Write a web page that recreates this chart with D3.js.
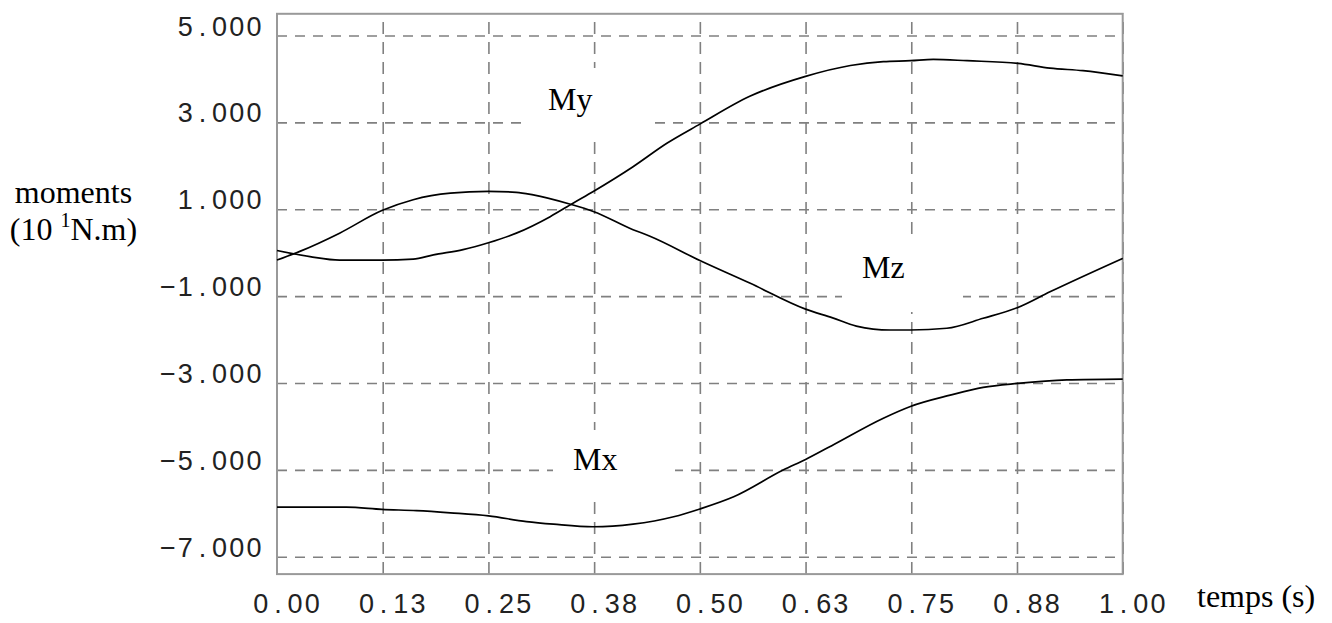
<!DOCTYPE html>
<html>
<head>
<meta charset="utf-8">
<script src="https://cdn.jsdelivr.net/npm/d3@7"></script>
<style>
  body { margin: 0; background: #fff; }
</style>
</head>
<body>
<div id="chart"></div>
<script>
// Data
const myTime = [0, 0.039, 0.074, 0.124, 0.161, 0.185, 0.22, 0.25, 0.283, 0.323, 0.35, 0.374, 0.421, 0.461, 0.5, 0.559, 0.625, 0.678, 0.717, 0.749, 0.776, 0.816, 0.876, 0.914, 0.953, 1]
const myValues = [0.05, -0.09, -0.17, -0.17, -0.15, -0.05, 0.07, 0.23, 0.45, 0.83, 1.14, 1.41, 1.98, 2.52, 2.96, 3.6, 4.06, 4.31, 4.4, 4.42, 4.45, 4.42, 4.36, 4.25, 4.19, 4.07]

const mzTime = [0, 0.027, 0.074, 0.124, 0.161, 0.205, 0.25, 0.283, 0.303, 0.346, 0.374, 0.421, 0.441, 0.5, 0.559, 0.625, 0.657, 0.685, 0.725, 0.749, 0.792, 0.835, 0.876, 0.914, 1]
const mzValues = [-0.17, 0.03, 0.45, 0.97, 1.22, 1.37, 1.41, 1.39, 1.33, 1.12, 0.95, 0.53, 0.38, -0.18, -0.7, -1.3, -1.5, -1.69, -1.78, -1.78, -1.74, -1.51, -1.26, -0.9, -0.13]

const mxTime = [0, 0.082, 0.124, 0.165, 0.205, 0.25, 0.295, 0.327, 0.374, 0.421, 0.469, 0.5, 0.54, 0.599, 0.625, 0.658, 0.717, 0.749, 0.796, 0.835, 0.876, 0.934, 1]
const mxValues = [-5.86, -5.86, -5.91, -5.94, -5.99, -6.06, -6.19, -6.25, -6.31, -6.25, -6.08, -5.9, -5.62, -5.0, -4.76, -4.42, -3.81, -3.54, -3.28, -3.1, -3.01, -2.93, -2.91]

const xTickValues = [0, 0.125, 0.25, 0.375, 0.5, 0.625, 0.75, 0.875, 1]
const xTickLabels = ['0.00', '0.13', '0.25', '0.38', '0.50', '0.63', '0.75', '0.88', '1.00']
const yTickValues = [5, 3, 1, -1, -3, -5, -7]
const yTickLabels = ['5.000', '3.000', '1.000', '\u22121.000', '\u22123.000', '\u22125.000', '\u22127.000']

const seriesNames = ['My', 'Mz', 'Mx']

// Dimensions
const dimensions = {
  width: 1332,
  height: 623,
  left: 277,
  right: 1122.7,
  top: 13.8,
  bottom: 574.1,
}

const svg = d3
  .select('#chart')
  .append('svg')
  .attr('width', dimensions.width)
  .attr('height', dimensions.height)

// Scales
const xScale = d3.scaleLinear().domain([0, 1]).range([dimensions.left, dimensions.right])
const yScale = d3.scaleLinear().domain([-7.4, 5.5]).range([dimensions.bottom, dimensions.top])

// Grid
const gridColor = '#808080'
const yGrid = svg
  .append('g')
  .attr('transform', `translate(${dimensions.left},0)`)
  .call(
    d3.axisLeft(yScale)
      .tickValues(yTickValues)
      .tickSize(-(dimensions.right - dimensions.left))
      .tickFormat('')
  )
yGrid.select('.domain').remove()
yGrid.selectAll('line')
  .attr('stroke', gridColor)
  .attr('stroke-width', 1.6)
  .attr('stroke-dasharray', '10,8')

const xGrid = svg
  .append('g')
  .attr('transform', `translate(0,${dimensions.bottom})`)
  .call(
    d3.axisBottom(xScale)
      .tickValues(xTickValues.slice(1))
      .tickSize(-(dimensions.bottom - dimensions.top))
      .tickFormat('')
  )
xGrid.select('.domain').remove()
xGrid.selectAll('line')
  .attr('stroke', gridColor)
  .attr('stroke-width', 1.6)
  .attr('stroke-dasharray', '12,8')

// Frame
svg.append('rect')
  .attr('x', dimensions.left)
  .attr('y', dimensions.top)
  .attr('width', dimensions.right - dimensions.left)
  .attr('height', dimensions.bottom - dimensions.top)
  .attr('fill', 'none')
  .attr('stroke', '#999')
  .attr('stroke-width', 2)

// Tick labels, one cell per character like the bitmap font
const cell = 17.2
const tickFont = (sel) => sel
  .attr('font-family', 'Liberation Sans, Arial, sans-serif')
  .attr('font-size', 27)
  .attr('fill', '#222')
  .attr('text-anchor', 'middle')

yTickValues.forEach((v, i) => {
  const chars = yTickLabels[i].split('')
  const t = svg.append('text').call(tickFont).attr('y', yScale(v))
  chars.forEach((c, j) => {
    t.append('tspan')
      .attr('x', 254 - (chars.length - 1 - j) * cell)
      .attr('y', yScale(v))
      .text(c)
  })
})

xTickValues.forEach((v, i) => {
  const chars = xTickLabels[i].split('')
  const t = svg.append('text').call(tickFont).attr('y', 613)
  chars.forEach((c, j) => {
    t.append('tspan')
      .attr('x', xScale(v) + 9.5 + (j - (chars.length - 1) / 2) * cell)
      .attr('y', 613)
      .text(c)
  })
})

// Axis titles
const serif = 'Liberation Serif, Times New Roman, serif'
svg.append('text')
  .attr('x', 73.5).attr('y', 203)
  .attr('text-anchor', 'middle')
  .attr('font-family', serif).attr('font-size', 32)
  .text('moments')

const unit = svg.append('text')
  .attr('x', 73.5).attr('y', 240)
  .attr('text-anchor', 'middle')
  .attr('font-family', serif).attr('font-size', 32)
unit.append('tspan').text('(10 ')
unit.append('tspan').attr('font-size', 20).attr('dy', -13).text('1')
unit.append('tspan').attr('dy', 13).text('N.m)')

svg.append('text')
  .attr('x', 1197).attr('y', 607)
  .attr('font-family', serif).attr('font-size', 32)
  .text('temps (s)')

// Lines
const lineGenerator = d3.line()
  .x((d) => xScale(d[0]))
  .y((d) => yScale(d[1]))
  .curve(d3.curveMonotoneX)

const series = [
  d3.zip(myTime, myValues),
  d3.zip(mzTime, mzValues),
  d3.zip(mxTime, mxValues),
]

svg.append('g')
  .selectAll('path')
  .data(series)
  .join('path')
  .attr('d', lineGenerator)
  .attr('fill', 'none')
  .attr('stroke', '#000')
  .attr('stroke-width', 1.7)

// Series labels on white boxes
const labelBoxes = [
  { x0: 528, x1: 650, y0: 68, y1: 142, tx: 548, ty: 110 },
  { x0: 842, x1: 963, y0: 235, y1: 312, tx: 862, ty: 278 },
  { x0: 553, x1: 675, y0: 430, y1: 502, tx: 573, ty: 470 },
]

const labels = svg.append('g')
  .selectAll('g')
  .data(seriesNames)
  .join('g')

labels.append('rect')
  .attr('x', (d, i) => labelBoxes[i].x0)
  .attr('y', (d, i) => labelBoxes[i].y0)
  .attr('width', (d, i) => labelBoxes[i].x1 - labelBoxes[i].x0)
  .attr('height', (d, i) => labelBoxes[i].y1 - labelBoxes[i].y0)
  .attr('fill', '#fff')

labels.append('text')
  .attr('x', (d, i) => labelBoxes[i].tx)
  .attr('y', (d, i) => labelBoxes[i].ty)
  .attr('font-family', serif)
  .attr('font-size', 32)
  .text((d) => d)
</script>
</body>
</html>
